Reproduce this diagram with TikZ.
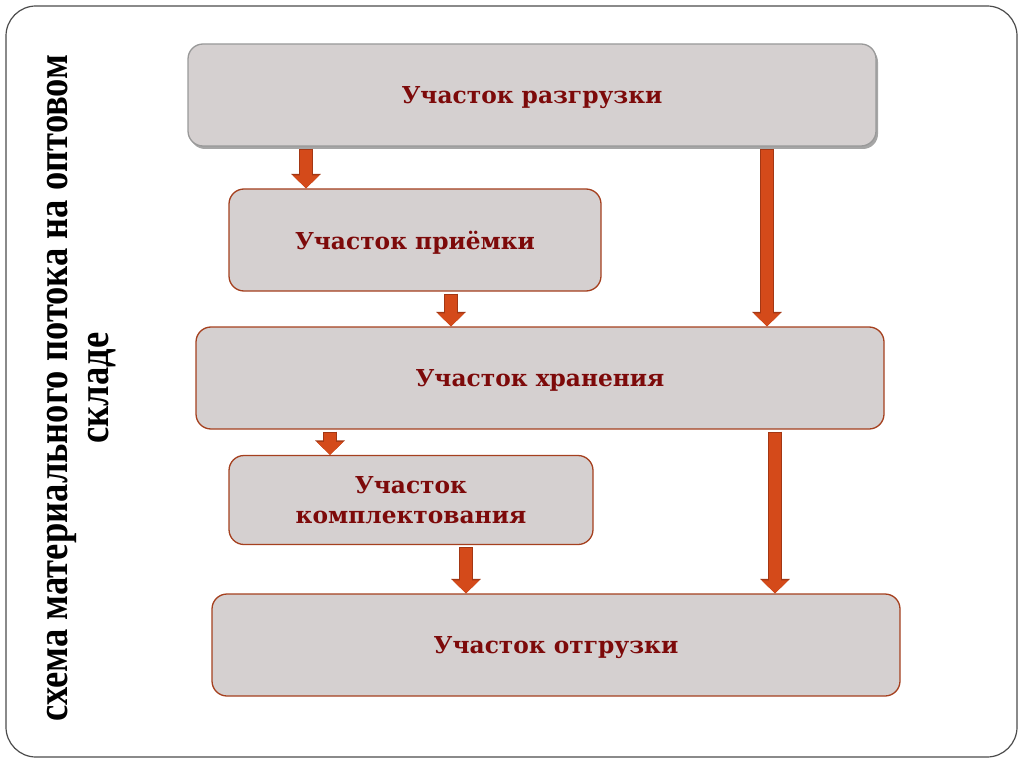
\documentclass[tikz,border=0pt]{standalone}
\usepackage{fontspec}
\setmainfont{DejaVu Serif}
\newfontfamily\sidefont{Liberation Serif}
\usetikzlibrary{positioning,arrows.meta,shadows}

\definecolor{boxfill}{RGB}{213,208,208}
\definecolor{boxedge}{RGB}{165,64,31}
\definecolor{boxtext}{RGB}{125,10,10}
\definecolor{arrowfill}{RGB}{212,74,26}
\definecolor{arrowedge}{RGB}{163,55,20}

\tikzset{
  area/.style={draw=boxedge, line width=1.3pt, fill=boxfill, rounded corners=15pt,
    text=boxtext, font=\bfseries\fontsize{23.3}{30}\selectfont, align=center,
    inner sep=0pt, text depth=0pt},
  flow/.style={draw=arrowfill, line width=12pt, shorten <=3pt,
    -{Triangle[width=26pt,length=13pt]},
    preaction={draw=arrowedge, line width=14pt, shorten <=2pt,
      -{Triangle[width=29pt,length=14.5pt]}}}
}

\begin{document}
\begin{tikzpicture}[x=1pt,y=-1pt]
\useasboundingbox (0,0) rectangle (1024,767);
\draw[gray!60!black, line width=1.2pt, rounded corners=30pt] (6,6) rectangle (1017,757);

% side title
\node[rotate=90, xscale=0.85, font=\sidefont\bfseries\fontsize{43}{41}\selectfont, align=center]
  (title) at (82,388) {схема материального потока на оптовом\\складе};

% areas of the warehouse
\node[area, draw=gray!80, minimum width=688pt, minimum height=102pt,
  drop shadow={shadow xshift=2pt, shadow yshift=-3pt, fill=black, opacity=0.35}]
  (unload) at (532,95) {Участок разгрузки};
\node[area, minimum width=372pt, minimum height=102pt] (accept) at (415,240) {Участок приёмки};
\node[area, minimum width=688pt, minimum height=102pt] (store) at (540,378) {Участок хранения};
\node[area, minimum width=364pt, minimum height=89pt] (pick) at (411,500) {Участок\\комплектования};
\node[area, minimum width=688pt, minimum height=102pt] (ship) at (556,645) {Участок отгрузки};

% arrow columns
\coordinate (colA) at (306,0);
\coordinate (colB) at (451,0);
\coordinate (colC) at (767,0);
\coordinate (colD) at (330,0);
\coordinate (colE) at (466,0);
\coordinate (colF) at (775,0);

\draw[flow] (unload.south -| colA) -- (accept.north -| colA);
\draw[flow] (accept.south -| colB) -- (store.north -| colB);
\draw[flow] (unload.south -| colC) -- (store.north -| colC);
\draw[flow] (store.south -| colD) -- (pick.north -| colD);
\draw[flow] (pick.south -| colE) -- (ship.north -| colE);
\draw[flow] (store.south -| colF) -- (ship.north -| colF);
\end{tikzpicture}
\end{document}
